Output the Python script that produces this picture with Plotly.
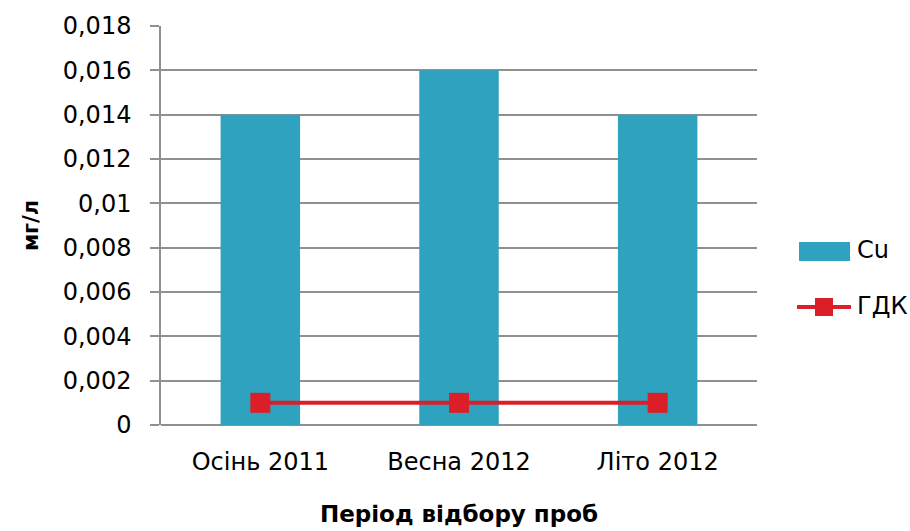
import plotly.graph_objects as go

categories = ["Осінь 2011", "Весна 2012", "Літо 2012"]
cu_values = [0.014, 0.016, 0.014]
gdk_values = [0.001, 0.001, 0.001]
series_names = ["Cu", "ГДК"]
y_tickvals = [0, 0.002, 0.004, 0.006, 0.008, 0.01, 0.012, 0.014, 0.016, 0.018]
y_ticktext = ["0", "0,002", "0,004", "0,006", "0,008", "0,01", "0,012", "0,014", "0,016", "0,018"]

BAR = "#2EA2BF"
RED = "#DA1F28"
GRID = "#909090"
FONT = "DejaVu Sans"

fig = go.Figure()
fig.add_trace(go.Bar(x=categories, y=cu_values, name=series_names[0],
                     marker=dict(color=BAR, line=dict(width=0)), showlegend=False))
fig.add_trace(go.Scatter(x=categories, y=gdk_values, name=series_names[1], mode="lines+markers",
                         line=dict(color=RED, width=4),
                         marker=dict(symbol="square", size=20, color=RED),
                         showlegend=False))

L, R, T, B = 161, 153, 26, 106
W, H = 910, 531
pw, ph = W - L - R, H - T - B

def px(x):
    return (x - L) / pw

def py(y):
    return (H - B - y) / ph

# manual legend
fig.add_shape(type="rect", xref="paper", yref="paper",
              x0=px(799), x1=px(850), y0=py(261), y1=py(242),
              fillcolor=BAR, line=dict(width=0))
fig.add_shape(type="line", xref="paper", yref="paper",
              x0=px(797), x1=px(851), y0=py(307), y1=py(307),
              line=dict(color=RED, width=4))
fig.add_shape(type="rect", xref="paper", yref="paper",
              x0=px(815), x1=px(833), y0=py(316), y1=py(298),
              fillcolor=RED, line=dict(width=0))
fig.add_annotation(xref="paper", yref="paper", x=px(855), y=py(250), text=series_names[0],
                   showarrow=False, xanchor="left", yanchor="middle",
                   font=dict(family=FONT, size=24, color="black"))
fig.add_annotation(xref="paper", yref="paper", x=px(855), y=py(306), text=series_names[1],
                   showarrow=False, xanchor="left", yanchor="middle",
                   font=dict(family=FONT, size=24, color="black"))

fig.update_layout(
    width=W, height=H,
    margin=dict(l=L, r=R, t=T, b=B, autoexpand=False),
    plot_bgcolor="white", paper_bgcolor="white",
    bargap=0.6,
    font=dict(family=FONT, size=24, color="black"),
    showlegend=False,
)
fig.update_xaxes(showgrid=False, showline=False, ticks="",
                 tickfont=dict(family=FONT, size=24),
                 ticklabelstandoff=20,
                 title=dict(text="<b>Період відбору проб</b>", standoff=30,
                            font=dict(family=FONT, size=23)))
fig.update_yaxes(range=[0, 0.018], tickvals=y_tickvals, ticktext=y_ticktext,
                 showgrid=True, gridcolor=GRID, gridwidth=1.5,
                 zeroline=True, zerolinecolor=GRID, zerolinewidth=1.5,
                 showline=True, linecolor=GRID, linewidth=1.5,
                 ticks="outside", ticklen=9, tickcolor=GRID, tickwidth=1.5,
                 ticklabelstandoff=14,
                 tickfont=dict(family=FONT, size=24),
                 title=dict(text="<b>мг/л</b>", standoff=18,
                            font=dict(family=FONT, size=21)))

fig.write_html("out.html", config={"displayModeBar": False},
               post_script="document.body.style.margin='0';document.body.style.overflow='hidden';")
